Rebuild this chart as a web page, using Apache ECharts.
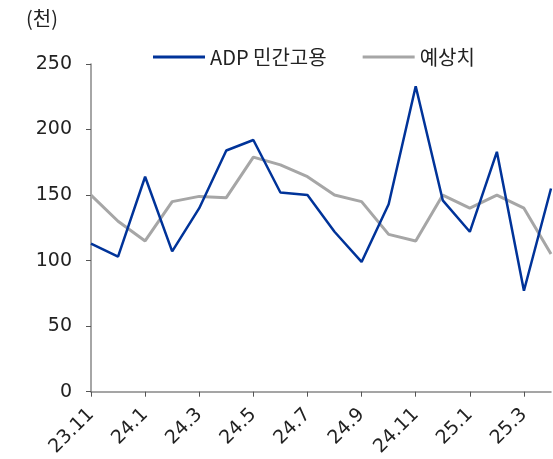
<!DOCTYPE html>
<html>
<head>
<meta charset="utf-8">
<script src="https://cdn.jsdelivr.net/npm/echarts@6/dist/echarts.min.js"></script>
<style>
  html, body { margin: 0; padding: 0; background: #fff; }
  #main { width: 553px; height: 459px; }
</style>
</head>
<body>
<div id="main"></div>
<script>
    var myChart = echarts.init(document.getElementById('main'));

    // 월별 구분 (23.11 ~ 25.4)
    var months = ['23.11', '23.12', '24.1', '24.2', '24.3', '24.4', '24.5', '24.6', '24.7',
                  '24.8', '24.9', '24.10', '24.11', '24.12', '25.1', '25.2', '25.3', '25.4'];
    // ADP 민간고용 (천명)
    var adp = [113, 103, 164, 107, 140, 184, 192, 152, 150,
               122, 99, 143, 233, 146, 122, 183, 77, 155];
    // 예상치
    var forecast = [150, 130, 115, 145, 149, 148, 179, 173, 164,
                    150, 145, 120, 115, 150, 140, 150, 140, 105];

    var font = 'DejaVu Sans';

    option = {
        animation: false,
        // 단위 표시
        title: {
            text: '(천)',
            left: 21,
            top: 3,
            textStyle: {
                fontFamily: 'Noto Sans CJK KR',
                fontSize: 20,
                fontWeight: 'normal',
                color: '#222'
            }
        },
        legend: {
            left: 148,
            top: 42,
            itemWidth: 52,
            itemHeight: 3,
            itemGap: 36,
            icon: 'rect',
            textStyle: {
                fontFamily: 'Noto Sans CJK KR',
                fontSize: 20,
                color: '#222'
            },
            data: ['ADP 민간고용', '예상치']
        },
        grid: {
            left: 91,
            right: 2,
            top: 64,
            bottom: 67
        },
        xAxis: {
            type: 'category',
            data: months,
            boundaryGap: false,
            axisLine: { lineStyle: { color: '#888', width: 1.5 } },
            axisTick: { interval: 1, length: 5, lineStyle: { color: '#555' } },
            axisLabel: {
                interval: 1,
                rotate: 45,
                margin: 20,
                fontFamily: font,
                fontSize: 19,
                color: '#222'
            }
        },
        yAxis: {
            type: 'value',
            min: 0,
            max: 250,
            interval: 50,
            axisLine: { show: true, lineStyle: { color: '#888', width: 1.5 } },
            axisTick: { show: true, length: 5, lineStyle: { color: '#555' } },
            splitLine: { show: false },
            axisLabel: {
                margin: 19,
                fontFamily: font,
                fontSize: 19,
                color: '#222'
            }
        },
        series: [{
            name: 'ADP 민간고용',
            type: 'line',
            data: adp,
            symbol: 'none',
            color: '#003399',
            lineStyle: { width: 2.5, color: '#003399' },
            z: 3
        }, {
            name: '예상치',
            type: 'line',
            data: forecast,
            symbol: 'none',
            color: '#a6a6a6',
            lineStyle: { width: 3, color: '#a6a6a6' },
            z: 2
        }]
    };

    myChart.setOption(option);
</script>
</body>
</html>
